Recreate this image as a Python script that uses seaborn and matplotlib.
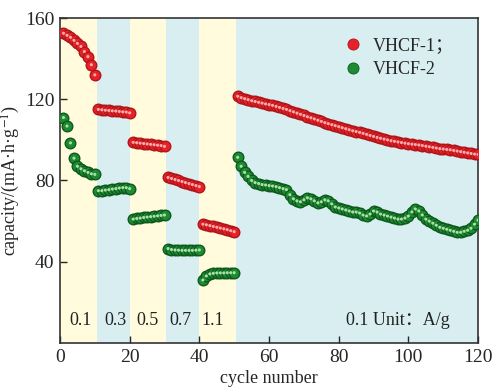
import numpy as np
import pandas as pd
import matplotlib
matplotlib.use('Agg')
import matplotlib.pyplot as plt
import seaborn as sns

# 데이터
cycles = list(range(1, 121))

vhcf1 = [152.5, 151.5, 150.5, 149.0, 147.5, 146.0, 143.5, 141.0, 137.0, 132.0,
         115.0, 114.8, 114.6, 114.5, 114.3, 114.2, 114.0, 113.8, 113.7, 113.3,
         98.8, 98.6, 98.4, 98.2, 98.0, 97.8, 97.6, 97.4, 97.2, 96.8,
         81.5, 81.0, 80.5, 80.0, 79.5, 79.0, 78.5, 78.0, 77.5, 77.0,
         58.5, 58.2, 57.8, 57.4, 57.0, 56.6, 56.2, 55.8, 55.3, 54.8,
         121.5, 120.8, 120.3, 119.8, 119.3, 118.9, 118.5, 118.1, 117.7, 117.4,
         117.0, 116.5, 116.0, 115.5, 115.0, 114.4, 113.8, 113.2, 112.6, 112.0,
         111.4, 110.9, 110.3, 109.7, 109.1, 108.5, 108.0, 107.5, 107.0, 106.5,
         106.0, 105.5, 105.0, 104.5, 104.1, 103.7, 103.2, 102.7, 102.2, 101.7,
         101.2, 100.8, 100.4, 100.0, 99.6, 99.3, 99.0, 98.7, 98.4, 98.1,
         97.9, 97.7, 97.5, 97.2, 96.9, 96.6, 96.3, 96.0, 95.7, 95.5,
         95.3, 95.1, 94.8, 94.5, 94.2, 93.9, 93.6, 93.3, 93.0, 92.8]

vhcf2 = [111.0, 106.8, 98.5, 91.0, 87.0, 85.8, 84.8, 84.0, 83.3, 83.0,
         75.0, 75.0, 75.3, 75.5, 75.8, 76.0, 76.3, 76.5, 76.5, 76.0,
         61.0, 61.3, 61.5, 61.8, 62.0, 62.2, 62.4, 62.6, 62.8, 63.0,
         46.5, 46.0, 45.8, 45.7, 45.6, 45.6, 45.6, 45.6, 45.7, 45.8,
         31.0, 33.0, 34.0, 34.3, 34.5, 34.5, 34.5, 34.6, 34.6, 34.6,
         91.4, 87.0, 84.0, 82.0, 80.0, 79.0, 78.5, 78.0, 77.8, 77.5,
         77.3, 77.0, 76.5, 76.0, 75.5, 73.0, 71.0, 70.0, 69.5, 70.5,
         71.5, 71.0, 70.0, 69.0, 69.5, 70.5, 70.0, 68.5, 67.0, 66.5,
         66.0, 65.5, 65.0, 64.5, 64.5, 64.0, 63.0, 62.5, 63.5, 65.0,
         64.5, 63.5, 63.0, 62.5, 62.0, 61.5, 61.0, 61.0, 61.5, 62.5,
         64.5, 66.0, 65.0, 63.0, 61.0, 60.0, 59.0, 58.0, 57.0, 56.5,
         56.0, 55.5, 55.0, 54.5, 54.5, 55.0, 55.5, 56.5, 58.5, 60.5]

# 전류밀도 구간 (배경색) 및 라벨
band_edges = [0, 10.5, 20, 30.5, 40, 50.5, 120]
band_colors = ['#fffbdc', '#d8eef0', '#fffbdc', '#d8eef0', '#fffbdc', '#d8eef0']
rate_labels = ['0.1', '0.3', '0.5', '0.7', '1.1']
rate_label_x = [6, 15.8, 25, 34.5, 43.7]

df = pd.DataFrame({
    'cycle': cycles * 2,
    'capacity': vhcf1 + vhcf2,
    'sample': ['VHCF-1；'] * 120 + ['VHCF-2'] * 120,
})

sns.set_style('ticks')
plt.rcParams['font.family'] = ['Liberation Serif', 'Noto Sans CJK SC', 'DejaVu Sans']
plt.rcParams['mathtext.fontset'] = 'stix'

fig = plt.figure(figsize=(4.93, 3.88), dpi=100)
ax = fig.add_axes([0.1217, 0.116, 0.8479, 0.8376])

for i in range(len(band_colors)):
    ax.axvspan(band_edges[i], band_edges[i + 1], color=band_colors[i], lw=0, zorder=0)

palette = {'VHCF-1；': '#e52229', 'VHCF-2': '#1e8a32'}
edges = {'VHCF-1；': '#b01519', 'VHCF-2': '#0d5a1c'}
lights = {'VHCF-1；': '#ffa8a8', 'VHCF-2': '#a8e0a8'}

for name in ['VHCF-1；', 'VHCF-2']:
    sub = df[df['sample'] == name]
    sns.scatterplot(data=sub, x='cycle', y='capacity', ax=ax, color=palette[name],
                    edgecolor=edges[name], linewidth=1.0, s=58, zorder=3, legend=False)
    sns.scatterplot(data=sub, x='cycle', y='capacity', ax=ax, color=lights[name],
                    edgecolor='none', s=5, zorder=4, legend=False)

# 범례
handles = [plt.Line2D([], [], ls='none', marker='o', ms=8, mfc=palette[n],
                      mec=edges[n], mew=0.6) for n in ['VHCF-1；', 'VHCF-2']]
ax.legend(handles, ['VHCF-1；', 'VHCF-2'], loc='upper right', frameon=False,
          fontsize=13, handletextpad=0.1, labelspacing=0.35,
          bbox_to_anchor=(0.98, 0.99))

for lab, xx in zip(rate_labels, rate_label_x):
    ax.text(xx, 11, lab, ha='center', va='center', fontsize=13, color='#222222')
ax.text(112, 11, '0.1 Unit：A/g', ha='right', va='center', fontsize=13, color='#222222')

ax.set_xlim(0, 120)
ax.set_ylim(0, 160)
ax.set_xticks([0, 20, 40, 60, 80, 100, 120])
ax.set_yticks([40, 80, 120, 160])
ax.tick_params(direction='in', labelsize=14, length=5, width=1, pad=4)
ax.set_xlabel('cycle number', fontsize=13, labelpad=3)
ax.set_ylabel('capacity/(mA·h·g$^{-1}$)', fontsize=13, labelpad=2)
for sp in ax.spines.values():
    sp.set_color('#333333')
    sp.set_linewidth(1.2)

fig.savefig('out.png', dpi=100)
